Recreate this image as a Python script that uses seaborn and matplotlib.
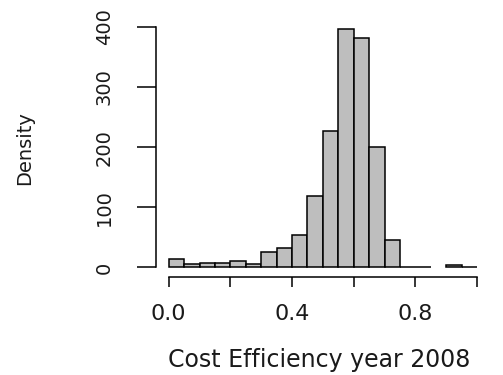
import numpy as np
import pandas as pd
import matplotlib
matplotlib.use("Agg")
import matplotlib.pyplot as plt
import seaborn as sns

# Histogram of cost efficiency scores, 20 bins of width 0.05 on [0, 1]
bin_edges = [0.00, 0.05, 0.10, 0.15, 0.20, 0.25, 0.30, 0.35, 0.40, 0.45, 0.50,
             0.55, 0.60, 0.65, 0.70, 0.75, 0.80, 0.85, 0.90, 0.95, 1.00]
density = [14, 5, 7.5, 7.5, 10, 5, 26, 32, 54, 118,
           226, 396, 382, 200, 46, 0.6, 0.6, 0, 3.9, 1]

x_ticks = [0.0, 0.2, 0.4, 0.6, 0.8, 1.0]
x_tick_labels = ["0.0", "", "0.4", "", "0.8", ""]
y_ticks = [0, 100, 200, 300, 400]
y_tick_labels = ["0", "100", "200", "300", "400"]

x_label = "Cost Efficiency year 2008"
y_label = "Density"

sns.set_style("white")
plt.rcParams["font.family"] = ["DejaVu Sans"]

centers = [(a + b) / 2 for a, b in zip(bin_edges[:-1], bin_edges[1:])]
df = pd.DataFrame({"efficiency": centers, "density": density})

fig = plt.figure(figsize=(5.03, 3.75), dpi=100)
ax = fig.add_axes([0.3109, 0.2613, 0.662, 0.6864])

sns.histplot(data=df, x="efficiency", weights="density", bins=bin_edges,
             stat="count", color="#BEBEBE", edgecolor="black", linewidth=1.1,
             alpha=1.0, ax=ax)

# empty bins are left blank rather than drawn as a flat line
for p in list(ax.patches):
    if p.get_height() == 0:
        p.remove()

ax.set_xlim(-0.04, 1.04)
ax.set_ylim(-16, 412)

for side in ("top", "right"):
    ax.spines[side].set_visible(False)
for side in ("left", "bottom"):
    ax.spines[side].set_linewidth(1.1)
    ax.spines[side].set_color("black")
ax.spines["left"].set_bounds(0, 400)
ax.spines["bottom"].set_bounds(0, 1)

text_color = "#1a1a1a"

ax.set_xticks(x_ticks)
ax.set_xticklabels(x_tick_labels, fontsize=16)
ax.set_yticks(y_ticks)
ax.set_yticklabels(y_tick_labels, fontsize=14, rotation=90, va="center")

ax.tick_params(axis="x", direction="out", length=7.2, width=1.1, pad=12.5,
               color="black", labelcolor=text_color, bottom=True)
ax.tick_params(axis="y", direction="out", length=13.7, width=1.1, pad=17,
               color="black", labelcolor=text_color, left=True)

ax.set_xlabel(x_label, fontsize=17, color=text_color)
ax.set_ylabel(y_label, fontsize=14, color=text_color)
ax.xaxis.set_label_coords(0.488, -0.3497)
ax.xaxis.label.set_va("baseline")
ax.yaxis.set_label_coords(-0.395, 0.501)
ax.yaxis.label.set_va("center")

ax.grid(False)
fig.savefig("out.png", dpi=100, facecolor="white")
